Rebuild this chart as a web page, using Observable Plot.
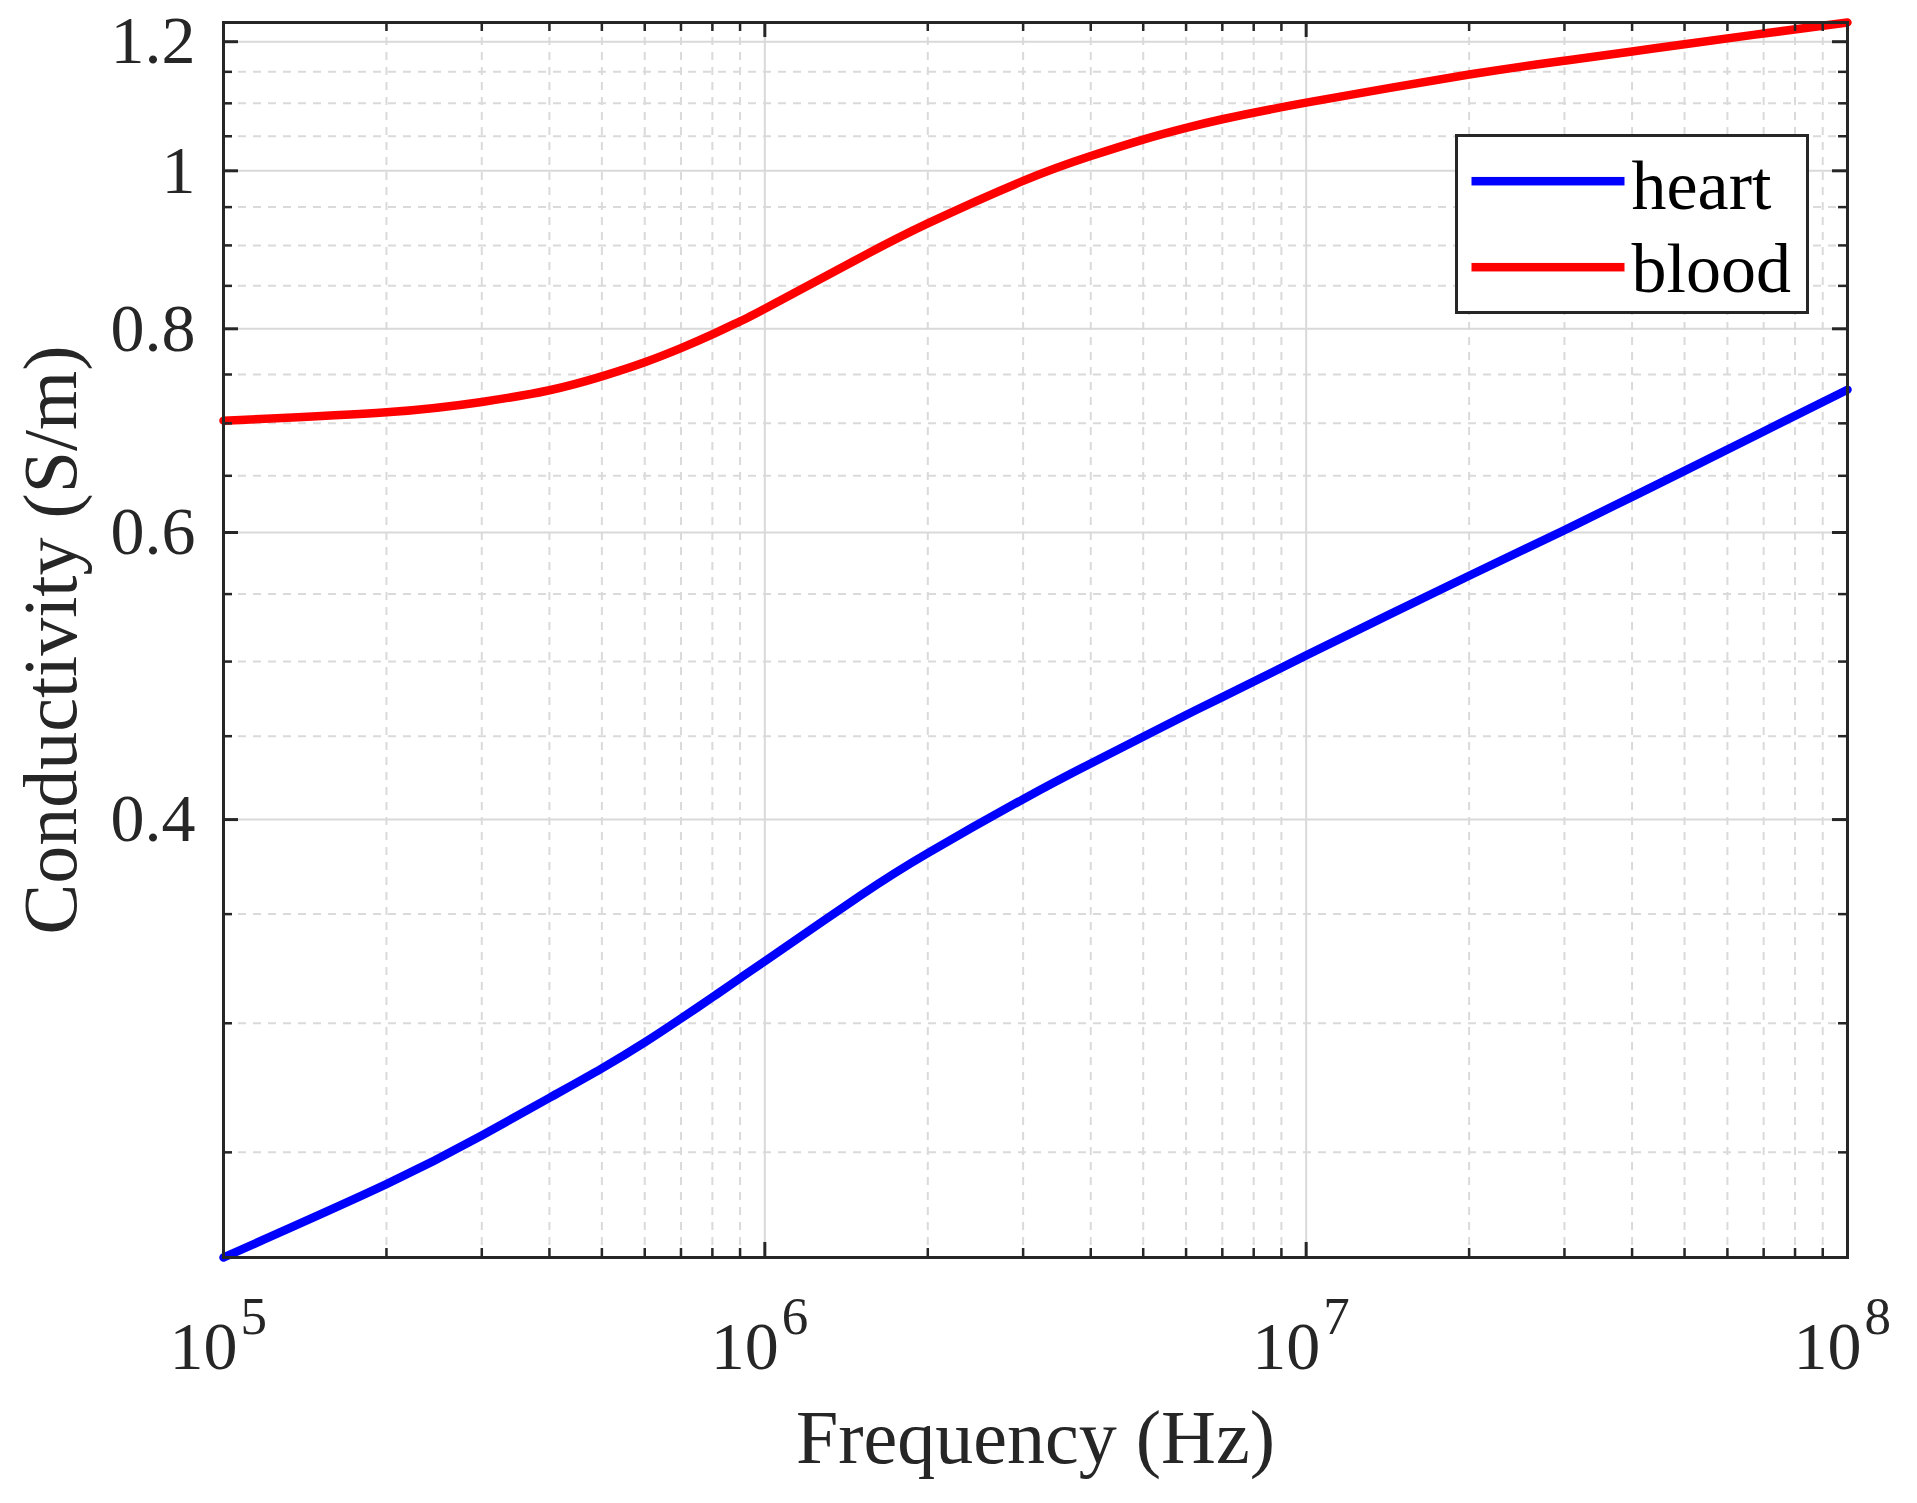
<!DOCTYPE html>
<html>
<head>
<meta charset="utf-8">
<script src="https://cdn.jsdelivr.net/npm/d3@7"></script>
<script src="https://cdn.jsdelivr.net/npm/@observablehq/plot@0.6"></script>
<style>
html, body { margin: 0; padding: 0; background: #ffffff; overflow: hidden; }
</style>
</head>
<body>
<div id="chart"></div>
<script>
// ---- data ----
const frequencyHz = [1e5, 2e5, 3e5, 4e5, 5e5, 6e5, 7e5, 8e5, 9e5, 1e6, 1.5e6, 2e6, 3e6, 4e6, 5e6, 6e6, 7e6, 1e7, 2e7, 3e7, 4e7, 5e7, 7e7, 1e8];
const heart = [0.2155, 0.239, 0.256, 0.270, 0.2815, 0.292, 0.302, 0.3112, 0.3197, 0.3275, 0.3592, 0.3815, 0.4117, 0.4330, 0.4496, 0.4637, 0.4755, 0.5044, 0.5644, 0.602, 0.631, 0.6545, 0.692, 0.734];
const blood = [0.7026, 0.711, 0.7215, 0.7335, 0.748, 0.763, 0.7784, 0.7936, 0.8084, 0.8229, 0.8845, 0.9284, 0.9858, 1.021, 1.045, 1.0624, 1.0755, 1.101, 1.1456, 1.1683, 1.1836, 1.1957, 1.214, 1.233];
const seriesNames = ["heart", "blood"];
const seriesColors = ["#0000ff", "#ff0000"];
const xTickExponents = [5, 6, 7, 8];
const xMinorMultipliers = [2, 3, 4, 5, 6, 7, 8, 9];
const yMajorTicks = [0.4, 0.6, 0.8, 1, 1.2];
const yMinorTicks = [0.25, 0.3, 0.35, 0.45, 0.5, 0.55, 0.65, 0.7, 0.75, 0.85, 0.9, 0.95, 1.05, 1.1, 1.15];
const xLabel = "Frequency (Hz)";
const yLabel = "Conductivity (S/m)";

// ---- layout ----
const W = 1917, H = 1503;
const mL = 223, mR = 70, mT = 22, mB = 246;
const fw = W - mL - mR, fh = H - mT - mB;
const ink = "#262626";
const font = "'Liberation Serif', 'Times New Roman', serif";
const majorTick = 15, minorTick = 9;
const lineW = 8.5;

const rows = frequencyHz.flatMap((f, i) => [
  {f, v: heart[i], s: seriesNames[0]},
  {f, v: blood[i], s: seriesNames[1]}
]);
const xMajor = xTickExponents.map(e => 10 ** e);
const xMinor = xTickExponents.slice(0, -1).flatMap(e => xMinorMultipliers.map(m => m * 10 ** e));

// legend box geometry (screen space)
const lg = {x0: 1456, x1: 1807, y0: 135, y1: 312, sw0: 1471, sw1: 1624, textX: 1631};
const legendRowsY = [180.7, 266.7];
const legendBaselines = [208, 291.7];

function legendBox(opts) {
  return Plot.frame({
    insetLeft: opts.x0 - mL,
    insetRight: (W - mR) - opts.x1,
    insetTop: opts.y0 - mT,
    insetBottom: (H - mB) - opts.y1,
    ...opts.style
  });
}

const marks = [
  // minor grid (dashed)
  Plot.ruleY(yMinorTicks, {stroke: "#dadada", strokeWidth: 2, strokeDasharray: "8,7"}),
  Plot.ruleX(xMinor, {stroke: "#dadada", strokeWidth: 2, strokeDasharray: "8,7"}),
  // major grid (solid)
  Plot.ruleY(yMajorTicks, {stroke: "#d9d9d9", strokeWidth: 2}),
  Plot.ruleX(xMajor, {stroke: "#d9d9d9", strokeWidth: 2}),
  // curves
  Plot.line(rows, {x: "f", y: "v", z: "s", stroke: "s", strokeWidth: lineW, curve: "natural"}),
  // inward ticks, all four sides
  Plot.ruleX(xMajor, {stroke: ink, strokeWidth: 3, insetTop: fh - majorTick}),
  Plot.ruleX(xMajor, {stroke: ink, strokeWidth: 3, insetBottom: fh - majorTick}),
  Plot.ruleX(xMinor, {stroke: ink, strokeWidth: 2.5, insetTop: fh - minorTick}),
  Plot.ruleX(xMinor, {stroke: ink, strokeWidth: 2.5, insetBottom: fh - minorTick}),
  Plot.ruleY(yMajorTicks, {stroke: ink, strokeWidth: 3, insetRight: fw - majorTick}),
  Plot.ruleY(yMajorTicks, {stroke: ink, strokeWidth: 3, insetLeft: fw - majorTick}),
  Plot.ruleY(yMinorTicks, {stroke: ink, strokeWidth: 2.5, insetRight: fw - minorTick}),
  Plot.ruleY(yMinorTicks, {stroke: ink, strokeWidth: 2.5, insetLeft: fw - minorTick}),
  // box
  Plot.frame({stroke: ink, strokeWidth: 3}),
  // y tick labels
  Plot.axisY({ticks: yMajorTicks, anchor: "left", tickSize: 0, tickPadding: 28, tickFormat: d => String(d), label: null, fontSize: 68, fontFamily: font, fill: ink}),
  // x tick labels: 10^e
  Plot.text(xTickExponents, {x: e => 10 ** e, text: () => "10", frameAnchor: "bottom", textAnchor: "end", lineAnchor: "bottom", dx: 14, dy: 111, fontSize: 68, fontFamily: font, fill: ink}),
  Plot.text(xTickExponents, {x: e => 10 ** e, text: e => String(e), frameAnchor: "bottom", textAnchor: "start", lineAnchor: "bottom", dx: 17, dy: 76, fontSize: 53, fontFamily: font, fill: ink}),
  // axis titles
  Plot.text([xLabel], {frameAnchor: "bottom", textAnchor: "middle", lineAnchor: "bottom", dy: 205, fontSize: 76, fontFamily: font, fill: ink}),
  Plot.text([yLabel], {frameAnchor: "left", rotate: -90, textAnchor: "middle", lineAnchor: "bottom", dx: 75 - mL, fontSize: 76, fontFamily: font, fill: ink}),
  // legend
  legendBox({x0: lg.x0, x1: lg.x1, y0: lg.y0, y1: lg.y1, style: {fill: "#ffffff", stroke: ink, strokeWidth: 3}}),
  ...seriesNames.flatMap((name, i) => [
    legendBox({x0: lg.sw0, x1: lg.sw1, y0: legendRowsY[i] - lineW / 2, y1: legendRowsY[i] + lineW / 2, style: {fill: seriesColors[i], stroke: "none"}}),
    Plot.text([name], {frameAnchor: "top-left", textAnchor: "start", lineAnchor: "bottom", dx: lg.textX - mL, dy: legendBaselines[i] - mT, fontSize: 70, fontFamily: font, fill: "#000000"})
  ])
];

const chart = Plot.plot({
  width: W,
  height: H,
  marginLeft: mL,
  marginRight: mR,
  marginTop: mT,
  marginBottom: mB,
  style: {fontFamily: font, fontSize: "68px", color: ink, background: "#ffffff"},
  x: {type: "log", domain: [xMajor[0], xMajor[xMajor.length - 1]], axis: null},
  y: {type: "log", domain: d3.extent(rows, d => d.v)},
  color: {domain: seriesNames, range: seriesColors},
  marks
});
document.getElementById("chart").appendChild(chart);
</script>
</body>
</html>
